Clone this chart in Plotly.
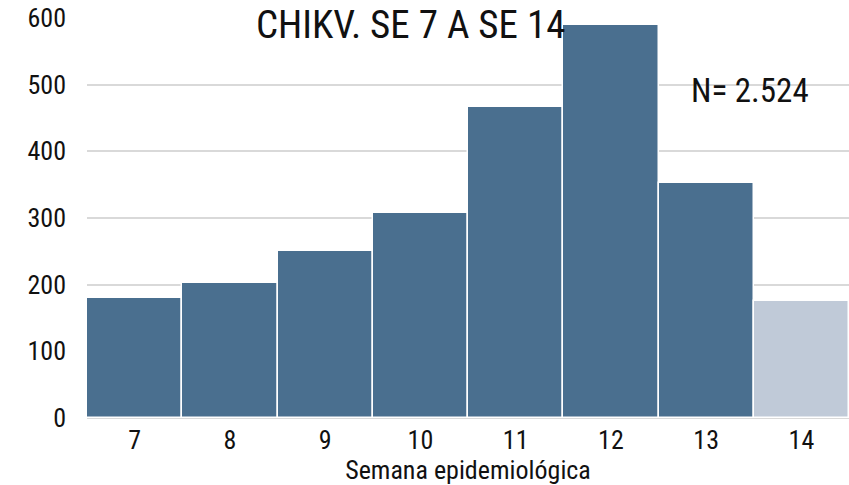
import plotly.graph_objects as go

semanas = [7, 8, 9, 10, 11, 12, 13, 14]
casos = [180, 202, 251, 307, 467, 589, 352, 176]
titulo = "CHIKV. SE 7 A SE 14"
total_txt = "N= 2.524"
eje_x = "Semana epidemiológica"
y_ticks = [0, 100, 200, 300, 400, 500, 600]

FONT = "Liberation Sans Narrow, Arial Narrow, Roboto Condensed, Liberation Sans, sans-serif"

colores = ["#4a6f8f"] * (len(semanas) - 1) + ["#c0cad8"]

fig = go.Figure()
fig.add_trace(go.Bar(
    x=semanas, y=casos,
    marker=dict(color=colores, line=dict(color="white", width=1.5)),
    width=1,
    hoverinfo="x+y",
))

fig.update_layout(
    width=849, height=485,
    margin=dict(l=87, r=0, t=18, b=67),
    paper_bgcolor="white", plot_bgcolor="white",
    bargap=0,
    showlegend=False,
    font=dict(family=FONT, color="#111111", size=25),
    xaxis=dict(
        range=[6.5, 14.5],
        tickmode="array", tickvals=semanas, ticktext=[str(s) for s in semanas],
        showgrid=False, zeroline=False,
        showline=False,
        ticks="", ticklabelstandoff=4,
        tickfont=dict(family=FONT, size=26, color="#111111"),
        title=dict(text=eje_x, font=dict(family=FONT, size=26, color="#111111"), standoff=0),
    ),
    yaxis=dict(
        range=[0, 600],
        tickmode="array", tickvals=y_ticks,
        showgrid=True, gridcolor="#d9d9d9", gridwidth=1.5,
        zeroline=True, zerolinecolor="#d9d9d9", zerolinewidth=2,
        ticks="", ticklabelstandoff=20,
        tickfont=dict(family=FONT, size=26, color="#111111"),
    ),
    annotations=[
        dict(text=titulo, xref="paper", yref="paper", x=0.425, y=0.9825,
             xanchor="center", yanchor="middle", showarrow=False,
             font=dict(family=FONT, size=39, color="#111111")),
        dict(text=total_txt, xref="paper", yref="paper", x=0.870, y=0.82,
             xanchor="center", yanchor="middle", showarrow=False,
             font=dict(family=FONT, size=33, color="#111111")),
    ],
)

fig.write_html("out.html", config={"displayModeBar": False},
               post_script="document.body.style.margin='0px';")
